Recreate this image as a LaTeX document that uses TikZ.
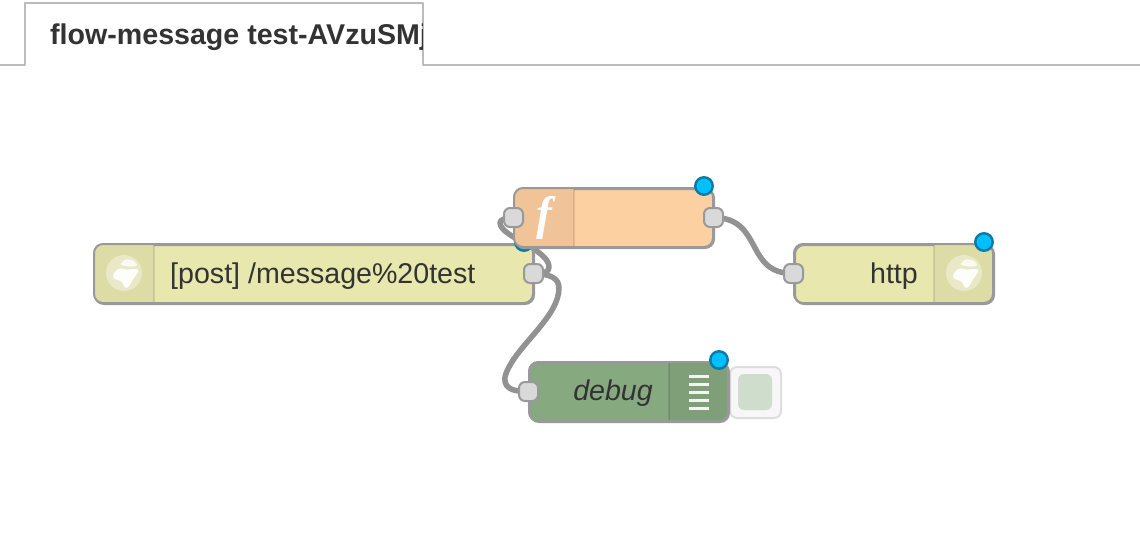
\documentclass[tikz,border=0pt]{standalone}
\usepackage{fontspec}
\setmainfont{Liberation Sans}
\newfontfamily\glyphfont{Liberation Serif}
\definecolor{wirec}{HTML}{929292}
\definecolor{bordc}{HTML}{999999}
\definecolor{portc}{HTML}{D9D9D9}
\definecolor{httpc}{HTML}{E7E7AE}
\definecolor{httph}{HTML}{DDDCA6}
\definecolor{funcc}{HTML}{FDD0A2}
\definecolor{funch}{HTML}{F0C498}
\definecolor{debugc}{HTML}{87A980}
\definecolor{debugh}{HTML}{7E9F77}
\definecolor{txtc}{HTML}{333333}
\definecolor{tabc}{HTML}{BBBBBB}
\definecolor{dotfill}{HTML}{00BFFF}
\definecolor{dotedge}{HTML}{0A7CA3}
\tikzset{
  x=1pt,y=-1pt,
  nodebox/.style={draw=bordc,line width=2pt,rounded corners=9pt,minimum width=199pt,minimum height=59pt,inner sep=0pt,anchor=north west},
  portbox/.style={draw=bordc,fill=portc,line width=2pt,rounded corners=6pt,minimum width=19pt,minimum height=19pt,inner sep=0pt},
  bluedot/.style={circle,draw=dotedge,fill=dotfill,line width=2.4pt,minimum size=17.5pt,inner sep=0pt},
  wire/.style={draw=wirec,line width=5.5pt,line cap=round,line join=round},
  label/.style={text=txtc,font=\fontsize{28.6}{28.6}\selectfont,inner sep=0pt,anchor=base},
  globe/.pic={
    \fill[white,opacity=.38] (0,0) circle[radius=18];
    \fill[white,opacity=.95,rounded corners=3pt] (-12,4) -- (-8,-3) -- (-3,-5) -- (3,-3) -- (8,-4) -- (15,-4)
      -- (12,3) -- (8,7) -- (6,13) -- (1,16) -- (-2,8) -- (-8,7) -- cycle;
    \fill[white,opacity=.8,rounded corners=2pt] (-4,-8) -- (1,-14) -- (9,-13) -- (14,-8) -- (8,-6) -- (2,-7) -- cycle;
  }
}
\begin{document}
\begin{tikzpicture}
\useasboundingbox (0,0) rectangle (1140,546);
\fill[white] (0,0) rectangle (1140,546);
% tab
\coordinate (tl0) at (0,65); \coordinate (tl1) at (25,65); \coordinate (tl2) at (25,3);
\coordinate (tl3) at (423,3); \coordinate (tl4) at (423,65); \coordinate (tl5) at (1140,65);
\draw[tabc,line width=2pt,line join=round] (tl0) -- (tl1) -- (tl2) -- (tl3) -- (tl4) -- (tl5);
\begin{scope}
  \clip (26,4) rectangle (422,64);
  \node[label,anchor=base west,font=\fontsize{28.6}{28.6}\selectfont\bfseries] (tabtext) at (50,44) {flow-message test-AVzuSMj};
\end{scope}
% port positions (drawn last, declared first)
\coordinate (pa) at (533.5,273.5);
\coordinate (pfi) at (513.5,217.5);
\coordinate (pfo) at (713.5,217.5);
\coordinate (phi) at (793.5,273.5);
\coordinate (pdi) at (528.5,391.5);
% wires
\draw[wire] (pa) .. controls (544,274) and (549,272) .. (549,267)
  .. controls (549,260) and (541,254) .. (534,249)
  .. controls (522,241) and (500,232) .. (500,223)
  .. controls (500,219) and (506,218) .. (pfi);
\draw[wire] (pa) .. controls (550,274) and (559,278) .. (559,288)
  .. controls (559,315) and (522,342) .. (509,367)
  .. controls (500,383) and (505,392) .. (pdi);
\draw[wire] (pfo) .. controls (764,218) and (744,274) .. (phi);
% first http node
\node[nodebox,minimum width=439pt,fill=httpc] (inn) at (94,244) {};
\begin{scope}
  \clip[rounded corners=9pt] (94,244) rectangle (533,303);
  \fill[httph] (94,244) rectangle (154,303);
  \draw[black,opacity=.1,line width=1.5pt] (154,245) -- (154,302);
\end{scope}
\draw[bordc,line width=2pt,rounded corners=9pt] (94,244) rectangle (533,303);
\pic at (124,273) {globe};
\node[label,anchor=base west] (intext) at (170,283) {[post] /message\%20test};
\node[bluedot] (dotin) at (524,242) {};
% function node
\node[nodebox,fill=funcc] (fn) at (514,188) {};
\begin{scope}
  \clip[rounded corners=9pt] (514,188) rectangle (713,247);
  \fill[funch] (514,188) rectangle (574,247);
  \draw[black,opacity=.1,line width=1.5pt] (574,189) -- (574,246);
\end{scope}
\draw[bordc,line width=2pt,rounded corners=9pt] (514,188) rectangle (713,247);
\node[text=white,inner sep=0pt,font=\fontsize{47}{47}\glyphfont\bfseries\itshape\selectfont] (fglyph) at (544,218) {f};
\node[bluedot] (dotfn) at (704,186) {};
% http response node
\node[nodebox,fill=httpc] (out) at (794,244) {};
\begin{scope}
  \clip[rounded corners=9pt] (794,244) rectangle (993,303);
  \fill[httph] (934,244) rectangle (993,303);
  \draw[black,opacity=.1,line width=1.5pt] (934,245) -- (934,302);
\end{scope}
\draw[bordc,line width=2pt,rounded corners=9pt] (794,244) rectangle (993,303);
\pic at (964,273) {globe};
\node[label,anchor=base east] (outtext) at (918,283) {http};
\node[bluedot] (dotout) at (984,242) {};
% debug button
\node[draw=black!13,fill=black!3,line width=2pt,rounded corners=7pt,minimum width=51pt,minimum height=51pt,inner sep=0pt,anchor=north west] (dbtn) at (729,366) {};
\node[fill=debugc!40!white,rounded corners=6pt,minimum width=34pt,minimum height=36pt,inner sep=0pt] (dbtnin) at (755,392) {};
% debug node
\node[nodebox,fill=debugc] (dbg) at (529,362) {};
\begin{scope}
  \clip[rounded corners=9pt] (529,362) rectangle (728,421);
  \fill[debugh] (669,362) rectangle (728,421);
  \draw[black,opacity=.1,line width=1.5pt] (669,363) -- (669,420);
\end{scope}
\draw[bordc,line width=2pt,rounded corners=9pt] (529,362) rectangle (728,421);
\foreach \yy in {376,384,392,400,408}
  \draw[white,opacity=.9,line width=3pt] (689,\yy) -- (709,\yy);
\node[label,anchor=base east,font=\fontsize{28.6}{28.6}\selectfont\itshape] (dbgtext) at (653,400) {debug};
\node[bluedot] (dotdbg) at (719,360) {};
% ports
\node[portbox] (ina) at (pa) {};
\node[portbox] (infi) at (pfi) {};
\node[portbox] (info) at (pfo) {};
\node[portbox] (outi) at (phi) {};
\node[portbox] (dbgi) at (pdi) {};
\end{tikzpicture}
\end{document}
